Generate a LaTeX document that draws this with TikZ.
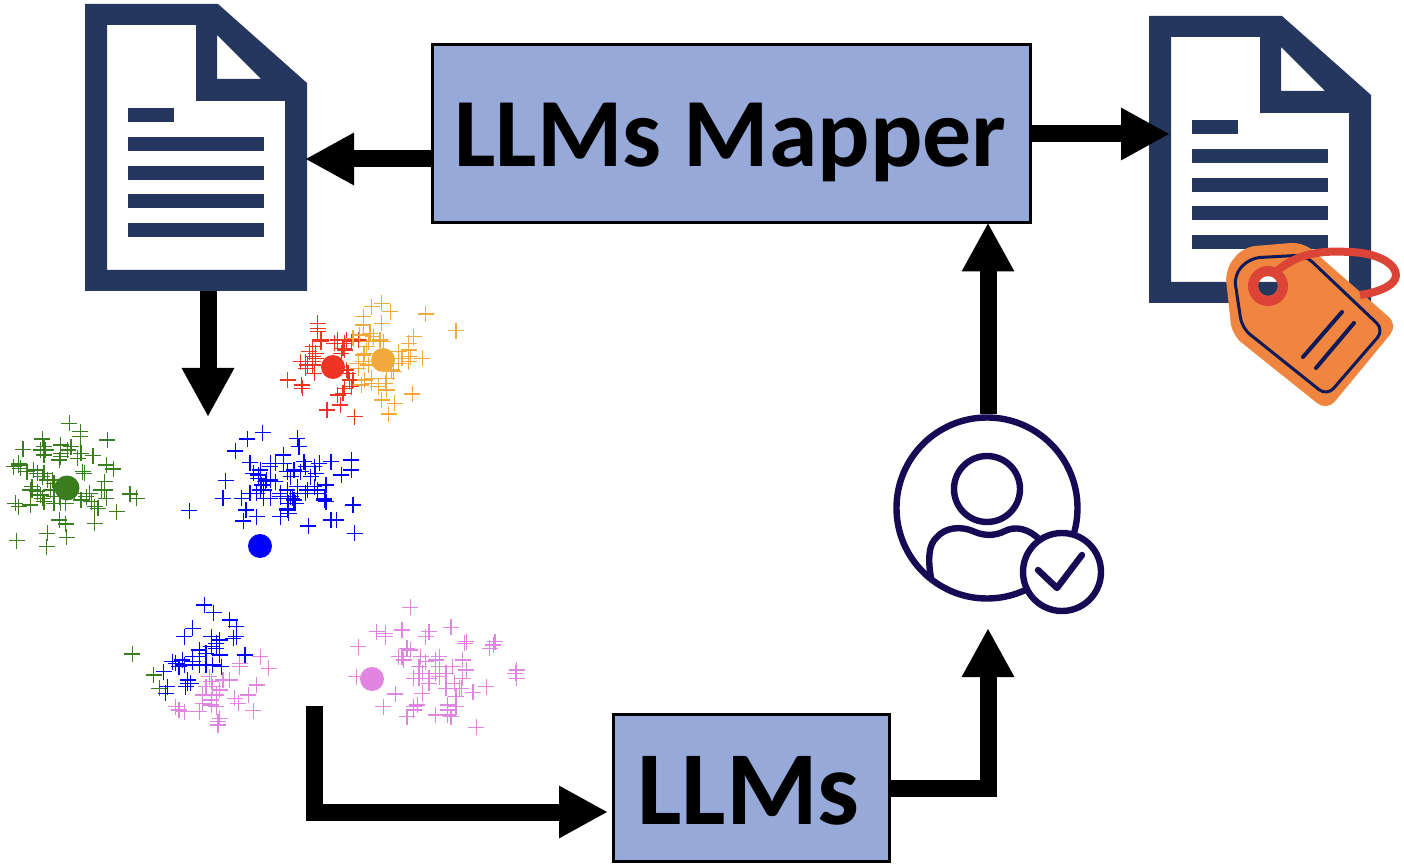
\documentclass[tikz,border=0pt]{standalone}
\usepackage{fontspec}
\setmainfont{Carlito}
\usetikzlibrary{arrows.meta}
\definecolor{boxblue}{HTML}{97A9D8}
\definecolor{docnavy}{HTML}{25375F}
\definecolor{usernavy}{HTML}{170A54}
\definecolor{tagorange}{HTML}{F0853F}
\definecolor{tagred}{HTML}{DC4438}
\definecolor{tagnavy}{HTML}{0F1A5A}
\definecolor{cgreen}{HTML}{3A7D1E}
\definecolor{cred}{HTML}{EE3524}
\definecolor{corange}{HTML}{F2AA3C}
\definecolor{cpink}{HTML}{E085E0}
\tikzset{
  llmbox/.style={draw=black,line width=1.5pt,fill=boxblue,inner sep=0pt,font=\bfseries},
  flow/.style={line width=8.5pt,shorten >=-1pt,-{Triangle[length=24.5pt,width=24.5pt]}},
  anchorbox/.style={minimum width=111pt,minimum height=143.5pt,inner sep=0pt,outer sep=0pt},
  crossmark/.style={line width=.6pt},
  userline/.style={draw=usernavy,line width=3.2pt},
  docicon/.pic={
    \fill[docnavy,even odd rule] (0,0) -- (133,0) -- (222,79) -- (222,287) -- (0,287) -- cycle
      (22,21) -- (111,21) -- (111,97) -- (200,97) -- (200,266) -- (22,266) -- cycle
      (132,31) -- (176,75) -- (132,75) -- cycle;
    \fill[docnavy] (43,104) rectangle (89,118);
    \foreach \ybar in {133,162,190,219}
      \fill[docnavy] (43,\ybar) rectangle (179,\ybar+14);
  }
}
\newcommand{\crosses}[2]{%
  \foreach \px/\py in {#2}
    \draw[crossmark,#1] ({\px/2.96},{\py/3+290}) +(-8,0) -- +(8,0) +(0,-8) -- +(0,8);}
\begin{document}
\begin{tikzpicture}[x=.5pt,y=-.5pt]
  \useasboundingbox (0,0) rectangle (1404,866);

  % documents
  \pic at (85,4) {docicon};
  \pic at (1149,16) {docicon};
  \node[anchorbox] (srcdoc) at (196,147.5) {};
  \node[anchorbox] (tagdoc) at (1260,159.5) {};

  % tag
  \fill[tagorange,even odd rule]
    [rounded corners=6pt] (1225,270) -- (1243,247) -- (1303,242) -- (1398,325) -- (1327,411) -- (1232,335) -- cycle
    [sharp corners] (1268,286) circle (10);
  \draw[tagnavy,line width=1.5pt,rounded corners=5pt]
    (1234,275) -- (1250,258) -- (1305,255) -- (1384,330) -- (1327,396) -- (1242,328) -- cycle;
  \draw[tagnavy,line width=2pt,line cap=round] (1342,312) -- (1303,357);
  \draw[tagnavy,line width=2pt,line cap=round] (1354,323) -- (1316,368);
  \draw[tagred,line width=4pt] (1276,272) .. controls (1300,250) and (1330,251) .. (1350,252)
    .. controls (1380,253) and (1396,265) .. (1396,275) .. controls (1396,285) and (1380,292) .. (1360,295);
  \draw[tagred,line width=5pt] (1268,286) circle (15);

  % clusters
  \crosses{cred}{940/100,940/115,940/125,890/215,925/200,935/205,925/225,905/235,930/250,852/270,893/285,895/295,968/360,1007/345,1050/380,1000/315,1020/295,1035/270,1040/290,1030/250,1025/240,1020/180,1040/155,990/160,950/155,925/170,1010/190,1020/160,1060/150,905/215,915/185,1045/270,1015/310,1000/150,1025/150,1015/175,950/150,935/190,925/215,910/225}
  \crosses{corange}{1130/40,1100/50,1155/65,1075/80,1075/105,1130/100,1260/72,1350/122,1225/140,1210/160,1065/135,1045/145,1090/155,1125/150,1180/185,1215/200,1250/205,1210/215,1080/190,1060/220,1075/215,1165/245,1145/265,1100/265,1070/285,1120/290,1145/300,1220/312,1130/330,1168/340,1150/372,1095/130,1085/170,1075/195,1090/225,1180/220,1160/240,1210/180,1100/280,1140/280,1080/270,1060/235,1105/140,1135/155,1190/205}
  \crosses{cgreen}{205/400,238/425,238/440,318/450,125/447,68/478,135/480,180/465,130/495,240/490,275/497,180/500,55/525,40/530,315/525,335/537,100/540,130/550,250/550,155/570,310/575,95/600,120/615,125/625,195/595,265/610,385/612,405/625,315/625,280/650,345/665,45/640,55/650,90/645,180/640,175/690,195/702,280/700,140/730,198/742,50/752,138/770,240/630,160/640,120/480,130/470,180/490,175/510,60/535,80/545,110/550,125/560,140/570,160/580,210/470,200/480,230/505,245/545,95/590,110/605,160/620,150/600,220/610,255/620,300/600,270/635,290/655,310/600,55/520,175/620,195/640,130/635,90/600}
  \crosses{blue}{778/428,732/447,880/445,697/483,885/470,740/518,838/495,900/515,980/515,1040/510,1040/540,1010/555,800/520,850/545,765/555,930/530,668/572,785/575,920/560,965/585,770/600,660/625,715/625,780/625,850/625,910/600,870/630,960/630,1045/645,728/660,760/680,720/693,830/680,850/655,912/708,980/690,995/690,1050/730,560/662,940/610,860/560,800/570,880/610,830/620,770/540,765/565,775/585,790/570,760/610,780/600,815/575,840/520,870/540,905/530,935/550,945/520,890/545,850/600,880/590,905/610,940/600,860/620,875/640,855/640,850/660,855/670,865/625,930/590,960/625,965/635,800/625,750/550,815/520,800/530,740/610,830/610}
  \crosses{cgreen}{392/1092,455/1155,472/1195}
  \crosses{cpink}{770/1100,795/1135,710/1130,760/1185,625/1175,650/1200,695/1225,600/1215,735/1215,625/1245,520/1250,545/1265,590/1265,750/1262,645/1295,645/1305,680/1170,610/1190,630/1190,640/1215,660/1170,620/1160,625/1230,640/1250,600/1240,530/1260,705/1240,710/1120,650/1285}
  \crosses{blue}{605/945,632/968,680/990,700/1010,570/1015,545/1040,625/1040,690/1045,590/1080,640/1075,650/1095,725/1095,540/1110,570/1115,520/1120,485/1145,610/1125,655/1130,555/1170,565/1180,495/1190,490/1210,625/1070,610/1090,590/1100,570/1100,530/1130,545/1125,630/1125,590/1125,555/1180,550/1190,640/1060,650/1050,700/1040,510/1115}
  \crosses{cpink}{1215/952,1115/1025,1140/1040,1190/1020,1270/1025,1335/1012,1060/1070,1380/1055,1465/1055,1450/1075,1205/1075,1180/1100,1245/1100,1300/1100,1370/1110,1240/1130,1340/1130,1055/1160,1290/1150,1225/1165,1370/1165,1525/1150,1270/1180,1170/1212,1400/1207,1440/1190,1350/1220,1135/1250,1225/1250,1325/1245,1205/1280,1290/1275,1335/1280,1410/1312,1320/1195,1250/1210,1190/1100,1215/1080,1260/1115,1290/1110,1300/1130,1250/1150,1240/1165,1300/1160,1320/1150,1345/1180,1365/1195,1270/1165,1225/1260,1235/1245,1325/1260,1325/1275,1350/1250,1360/1195,1140/1030,1260/1040,1375/1060,1530/1165,1530/1140,1460/1065,1195/1110,1380/1140}
  \fill[cgreen] (67,488) circle (12.5);
  \fill[cred] (333,367) circle (12);
  \fill[corange] (383,360) circle (12);
  \fill[blue] (260,546) circle (12);
  \fill[cpink] (372,679) circle (12);

  % user
  \node[userline,circle,inner sep=0pt,minimum size=90.5pt] (user) at (987,508) {};
  \draw[userline] (987,489) circle (33);
  \draw[userline,line join=round] (931,578) .. controls (928,560) and (928,545) .. (937,537)
    .. controls (945,528) and (960,525) .. (975,532) .. controls (985,536) and (995,536) .. (1005,531)
    .. controls (1015,526) and (1028,528) .. (1040,540);
  \node[userline,circle,fill=white,inner sep=0pt,minimum size=39pt] (check) at (1062,572) {};
  \draw[userline,line cap=round,line join=round] (1038,570) -- (1057,588) -- (1082,555);

  % boxes
  \node[llmbox,minimum width=299pt,minimum height=89pt,font=\bfseries\fontsize{48.9}{50}\selectfont] (mapper) at (731.5,134) {\raisebox{-16.5pt}[0pt][0pt]{\kern-1pt LLMs Mapper}};
  \node[llmbox,minimum width=138pt,minimum height=73.5pt,font=\bfseries\fontsize{52.5}{56}\selectfont] (llms) at (751,788) {\raisebox{-18pt}[0pt][0pt]{\kern-2.5pt LLMs}};

  % arrows
  \coordinate (rowin) at (0,159);
  \coordinate (rowout) at (1168,134);
  \coordinate (clusterin) at (208,415);
  \coordinate (clusterout) at (314,706);
  \coordinate (llmsin) at (606,812);
  \coordinate (usercol) at (988,0);
  \coordinate (userin) at (988,630);
  \draw[flow] (mapper.west |- rowin) -- (srcdoc.east |- rowin);
  \draw[flow] (mapper.east |- rowout) -- (rowout);
  \draw[flow] (srcdoc.south -| clusterin) -- (clusterin);
  \draw[flow] (clusterout) |- (llmsin);
  \draw[flow] (llms.east) -| (userin);
  \draw[flow] (user.north -| usercol) -- (mapper.south -| usercol);
\end{tikzpicture}
\end{document}
